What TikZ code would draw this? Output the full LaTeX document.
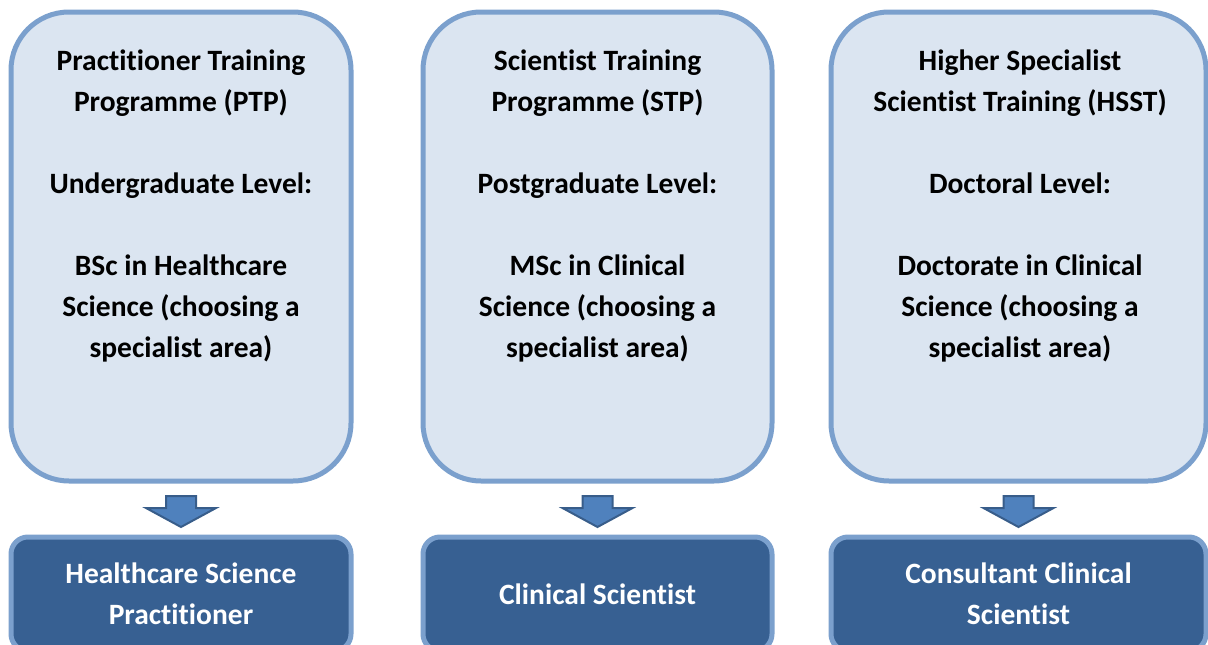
\documentclass[tikz,border=0pt]{standalone}
\usepackage{fontspec}
\setmainfont{Carlito}[Ligatures=NoCommon]
\usetikzlibrary{positioning, calc}
\definecolor{StageFill}{HTML}{DBE5F1}
\definecolor{StageLine}{HTML}{7BA0CD}
\definecolor{RoleFill}{HTML}{376092}
\definecolor{ArrowFill}{HTML}{4F81BD}
\definecolor{ArrowLine}{HTML}{385D8A}

\tikzset{
  stagebox/.style={draw=StageLine, fill=StageFill, line width=5pt, rounded corners=58pt,
                   minimum height=469pt},
  stagetext/.style={anchor=north, align=center, inner sep=0pt,
                    font=\fontsize{29.5}{41}\selectfont\bfseries},
  rolebox/.style={draw=StageLine, fill=RoleFill, line width=5pt, rounded corners=17pt,
                  minimum height=114pt, text=white, align=center,
                  font=\fontsize{29.5}{41}\selectfont\bfseries},
  downarrow/.style={draw=ArrowLine, fill=ArrowFill, line width=2pt, line join=miter}
}

\begin{document}
\begin{tikzpicture}
            \clip (0,0) rectangle (1208pt,-645pt);

            % Training programme boxes
            \node[stagebox, minimum width=340pt] (ptp) at (181pt,-246.5pt) {};
            \node[stagebox, minimum width=349pt] (stp) at (597.5pt,-246.5pt) {};
            \node[stagebox, minimum width=375pt] (hsst) at (1018.5pt,-246.5pt) {};

            \node[stagetext, below=40pt of ptp.north] (ptptext) {
                Practitioner Training\\
                Programme (PTP)\\[41pt]
                Undergraduate Level:\\[41pt]
                BSc in Healthcare\\
                Science (choosing a\\
                specialist area)
            };
            \node[stagetext, below=40pt of stp.north] (stptext) {
                Scientist Training\\
                Programme (STP)\\[41pt]
                Postgraduate Level:\\[41pt]
                MSc in Clinical\\
                Science (choosing a\\
                specialist area)
            };
            \node[stagetext, below=40pt of hsst.north, xshift=1.5pt] (hssttext) {
                Higher Specialist\\
                Scientist Training (HSST)\\[41pt]
                Doctoral Level:\\[41pt]
                Doctorate in Clinical\\
                Science (choosing a\\
                specialist area)
            };

            % Resulting roles
            \node[rolebox, minimum width=340pt] (hsp) at (181pt,-594pt) {Healthcare Science\\Practitioner};
            \node[rolebox, minimum width=349pt] (cs) at (597.5pt,-594pt) {Clinical Scientist};
            \node[rolebox, minimum width=375pt] (ccs) at (1018.5pt,-594pt) {Consultant Clinical\\Scientist};

            % Block arrows between the rows
            \foreach \top in {ptp, stp, hsst} {
                \draw[downarrow] ($(\top.south)+(-15pt,-12.5pt)$) -- ++(30pt,0) -- ++(0,-12pt)
                    -- ++(20pt,0) -- ++(-35pt,-19pt) -- ++(-35pt,19pt) -- ++(20pt,0) -- cycle;
            }
        \end{tikzpicture}
\end{document}
